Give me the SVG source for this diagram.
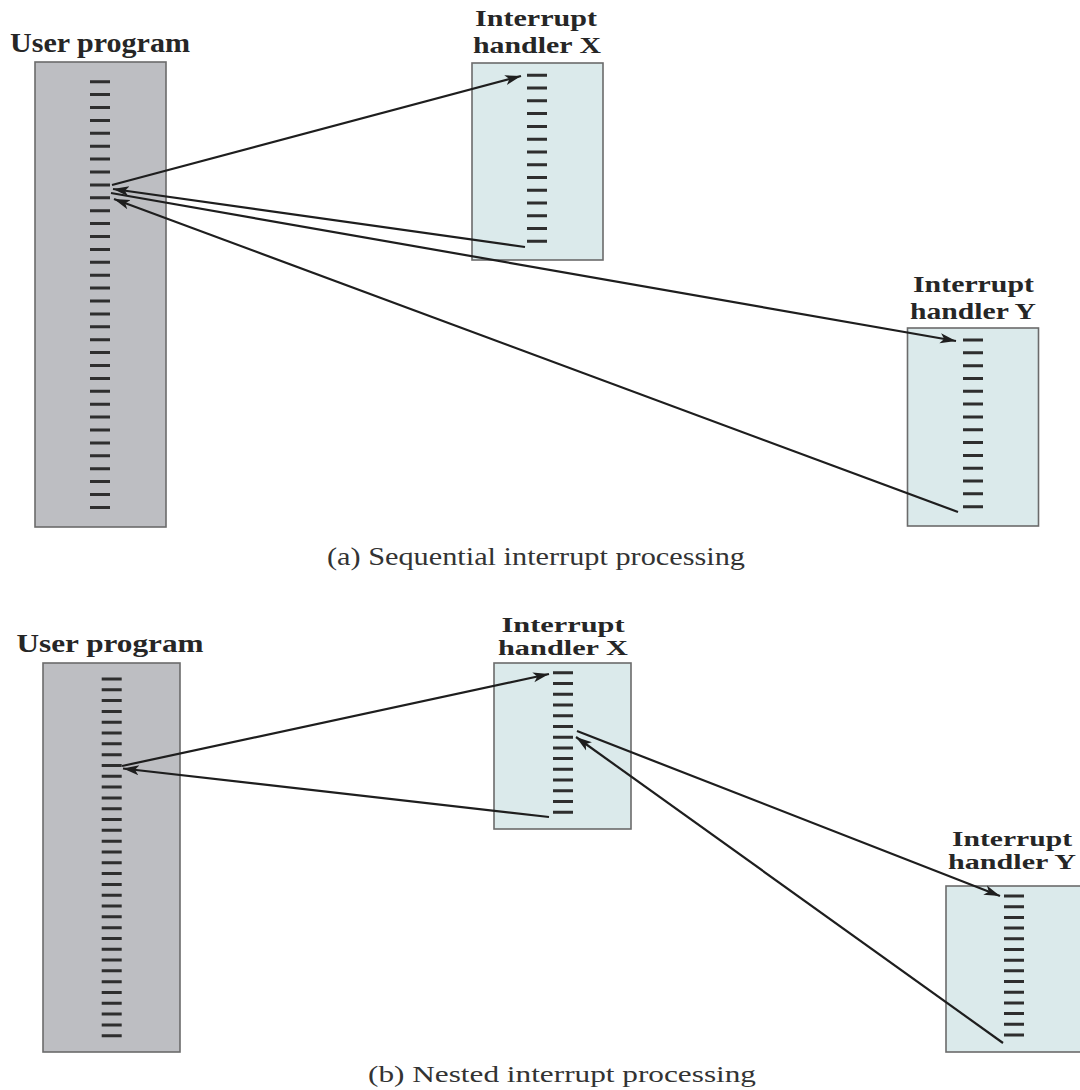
<svg xmlns="http://www.w3.org/2000/svg" width="1080" height="1090" viewBox="0 0 1080 1090">
  <style>
    .bg { fill: #ffffff; }
    .user { fill: #bdbec2; stroke: #6b6b6b; stroke-width: 1.6; }
    .handler { fill: #dbeaeb; stroke: #6b6b6b; stroke-width: 1.6; }
    .ticks { stroke: #2e2e2e; stroke-width: 20; fill: none; }
    .label { font-family: "Liberation Serif", "Times New Roman", serif; font-weight: bold; fill: #262626; text-anchor: middle; }
    .caption { font-family: "Liberation Serif", "Times New Roman", serif; fill: #333333; text-anchor: middle; }
    .conn { stroke: #1e1e1e; stroke-width: 2.2; fill: none; marker-end: url(#arrow); }
  </style>
  <defs>
    <marker id="arrow" markerUnits="userSpaceOnUse" markerWidth="18" markerHeight="12" refX="16" refY="6" orient="auto">
      <path d="M0,1 L16,6 L0,11 L4,6 Z" fill="#1e1e1e"/>
    </marker>
  </defs>

  <rect class="bg" x="0" y="0" width="1080" height="1090"/>

  <!-- (a) Sequential interrupt processing -->
  <g id="seq-user-program">
    <rect class="user" x="35" y="62" width="131" height="465"/>
    <line class="ticks" x1="100" y1="80.2" x2="100" y2="509" stroke-dasharray="3 9.9"/>
    <text class="label" x="100" y="52" font-size="27" textLength="180" lengthAdjust="spacingAndGlyphs">User program</text>
  </g>

  <g id="seq-handler-x">
    <rect class="handler" x="472" y="63" width="131" height="197"/>
    <line class="ticks" x1="537" y1="73.8" x2="537" y2="243" stroke-dasharray="3 9.77"/>
    <text class="label" x="536" y="26" font-size="23" textLength="122" lengthAdjust="spacingAndGlyphs">Interrupt</text>
    <text class="label" x="537" y="53" font-size="23" textLength="128" lengthAdjust="spacingAndGlyphs">handler X</text>
  </g>

  <g id="seq-handler-y">
    <rect class="handler" x="907.5" y="328" width="131" height="198"/>
    <line class="ticks" x1="973" y1="338.5" x2="973" y2="508.5" stroke-dasharray="3 9.82"/>
    <text class="label" x="973.5" y="292" font-size="23" textLength="121" lengthAdjust="spacingAndGlyphs">Interrupt</text>
    <text class="label" x="973" y="319" font-size="23" textLength="126" lengthAdjust="spacingAndGlyphs">handler Y</text>
  </g>

  <text class="caption" x="536" y="565" font-size="25" textLength="418" lengthAdjust="spacingAndGlyphs">(a) Sequential interrupt processing</text>

  <!-- (b) Nested interrupt processing -->
  <g id="nest-user-program">
    <rect class="user" x="43" y="663" width="137" height="389"/>
    <line class="ticks" x1="111.7" y1="677.5" x2="111.7" y2="1037.5" stroke-dasharray="3 7.81"/>
    <text class="label" x="110" y="652" font-size="25" textLength="187" lengthAdjust="spacingAndGlyphs">User program</text>
  </g>

  <g id="nest-handler-x">
    <rect class="handler" x="494" y="663" width="137" height="166"/>
    <line class="ticks" x1="563" y1="671.2" x2="563" y2="814" stroke-dasharray="3 7.74"/>
    <text class="label" x="563" y="632" font-size="20" textLength="123" lengthAdjust="spacingAndGlyphs">Interrupt</text>
    <text class="label" x="563" y="655" font-size="20" textLength="130" lengthAdjust="spacingAndGlyphs">handler X</text>
  </g>

  <g id="nest-handler-y">
    <rect class="handler" x="946" y="886" width="140" height="166"/>
    <line class="ticks" x1="1014" y1="894.5" x2="1014" y2="1037" stroke-dasharray="3 7.69"/>
    <text class="label" x="1012" y="846" font-size="20" textLength="120" lengthAdjust="spacingAndGlyphs">Interrupt</text>
    <text class="label" x="1012" y="869" font-size="20" textLength="128" lengthAdjust="spacingAndGlyphs">handler Y</text>
  </g>

  <text class="caption" x="562" y="1082" font-size="23" textLength="388" lengthAdjust="spacingAndGlyphs">(b) Nested interrupt processing</text>

  <!-- transfers of control -->
  <g id="connectors">
    <line class="conn" x1="112" y1="185" x2="521" y2="76"/>
    <line class="conn" x1="525" y1="247" x2="113" y2="189"/>
    <line class="conn" x1="111" y1="193" x2="956" y2="341"/>
    <line class="conn" x1="958" y1="512" x2="114" y2="199"/>

    <line class="conn" x1="122" y1="766" x2="549" y2="674"/>
    <line class="conn" x1="549" y1="817" x2="123" y2="768.5"/>
    <line class="conn" x1="577" y1="731" x2="1000" y2="896"/>
    <line class="conn" x1="1003" y1="1043" x2="576" y2="737"/>
  </g>
</svg>
